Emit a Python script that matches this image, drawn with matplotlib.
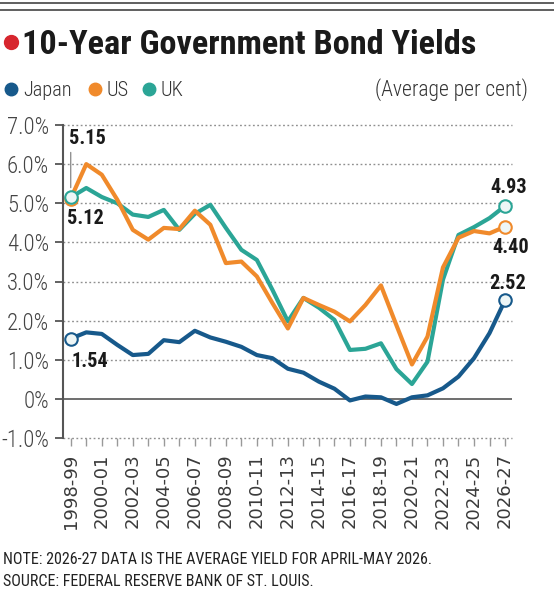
import numpy as np
import matplotlib.pyplot as plt
from matplotlib import font_manager as fm

# pick the narrowest family that is installed
installed = {f.name for f in fm.fontManager.ttflist}
prefs = ['Roboto Condensed', 'Liberation Sans Narrow', 'Roboto', 'Liberation Sans', 'DejaVu Sans']
base = next(n for n in prefs if n in installed or n == 'DejaVu Sans')
plt.rcParams['font.family'] = [base, 'DejaVu Sans']

# fiscal years, one point each
years = ['1998-99', '1999-00', '2000-01', '2001-02', '2002-03', '2003-04', '2004-05',
         '2005-06', '2006-07', '2007-08', '2008-09', '2009-10', '2010-11', '2011-12',
         '2012-13', '2013-14', '2014-15', '2015-16', '2016-17', '2017-18', '2018-19',
         '2019-20', '2020-21', '2021-22', '2022-23', '2023-24', '2024-25', '2025-26',
         '2026-27']

# average 10-year yields (per cent)
japan = [1.54, 1.70, 1.66, 1.38, 1.12, 1.15, 1.50, 1.45, 1.74, 1.57, 1.46, 1.33, 1.12, 1.04,
         0.77, 0.67, 0.44, 0.26, -0.04, 0.06, 0.04, -0.13, 0.04, 0.09, 0.27, 0.57, 1.04,
         1.68, 2.52]
us = [5.12, 6.00, 5.73, 5.09, 4.32, 4.07, 4.37, 4.34, 4.81, 4.45, 3.47, 3.51, 3.13, 2.45,
      1.80, 2.58, 2.40, 2.23, 1.98, 2.40, 2.90, 1.88, 0.88, 1.59, 3.36, 4.12, 4.29, 4.23,
      4.40]
uk = [5.15, 5.39, 5.16, 5.00, 4.71, 4.65, 4.83, 4.32, 4.73, 4.96, 4.37, 3.81, 3.55, 2.79,
      1.98, 2.58, 2.33, 2.02, 1.25, 1.28, 1.42, 0.76, 0.38, 0.95, 3.05, 4.19, 4.39, 4.62,
      4.93]

yticks = [-1, 0, 1, 2, 3, 4, 5, 6, 7]
ylabels = ['-1.0%', '0%', '1.0%', '2.0%', '3.0%', '4.0%', '5.0%', '6.0%', '7.0%']

c_jp = '#17598b'
c_us = '#f08a2b'
c_uk = '#2ba596'
face = '#eef6f6'

W, H = 554, 600
fig = plt.figure(figsize=(W / 100, H / 100), dpi=100)
ax = fig.add_axes([63 / W, 1 - 438 / H, 449 / W, 313 / H])

x = np.arange(len(years))

# grid
for v in yticks:
    if v == 0:
        ax.axhline(v, color='#555555', lw=1.2, zorder=1)
    else:
        ax.axhline(v, color='#8f8f8f', lw=1, ls=(0, (1.3, 1.8)), zorder=1, clip_on=False)

ax.plot(x, japan, color=c_jp, lw=3, zorder=3, solid_joinstyle='round')
ax.plot(x, uk, color=c_uk, lw=3, zorder=3, solid_joinstyle='round')
ax.plot(x, us, color=c_us, lw=3, zorder=4, solid_joinstyle='round')

for s, c in [(japan, c_jp), (us, c_us), (uk, c_uk)]:
    ax.plot([x[0], x[-1]], [s[0], s[-1]], 'o', ms=9, mfc=face, mec=c, mew=1.5,
            zorder=6, clip_on=False)

# value labels at both ends
lab = dict(textcoords='offset pixels', ha='center', va='center', fontsize=16,
           fontweight='bold', color='#1a1a1a')
vals = [
    ax.annotate(f'{uk[0]:.2f}', (x[0], uk[0]), xytext=(17, 59), **lab),
    ax.annotate(f'{us[0]:.2f}', (x[0], us[0]), xytext=(15, -20), **lab),
    ax.annotate(f'{japan[0]:.2f}', (x[0], japan[0]), xytext=(19, -23), **lab),
    ax.annotate(f'{uk[-1]:.2f}', (x[-1], uk[-1]), xytext=(4, 18), **lab),
    ax.annotate(f'{us[-1]:.2f}', (x[-1], us[-1]), xytext=(6, -21), **lab),
    ax.annotate(f'{japan[-1]:.2f}', (x[-1], japan[-1]), xytext=(3, 17), **lab),
]
ax.annotate('', (x[0], uk[0]), xytext=(0, 45), textcoords='offset pixels',
            arrowprops=dict(arrowstyle='-', color='#777777', lw=0.8, shrinkA=0, shrinkB=7))

ax.set_xlim(-0.5, 28.45)
ax.set_ylim(-1, 7)
ax.set_yticks(yticks)
ax.set_yticklabels(ylabels)
ax.set_xticks(x)
ax.set_xticklabels([y if i % 2 == 0 else '' for i, y in enumerate(years)],
                   rotation=90, family='DejaVu Sans', fontsize=13)
ax.tick_params(axis='y', length=6, width=1.3, color='#555555', pad=4,
               labelsize=15, labelcolor='#444444')
ax.tick_params(axis='x', length=6, width=1, color='#999999', pad=5, labelcolor='#3a3a3a')
for t in ax.get_yticklabels():
    t.set_fontweight('light')
for sp in ['top', 'right', 'bottom']:
    ax.spines[sp].set_visible(False)
ax.spines['left'].set_color('#555555')
ax.spines['left'].set_linewidth(1.5)

# header
for yy in [3, 10]:
    fig.add_artist(plt.Line2D([0, 1], [1 - yy / H] * 2, color='#444444', lw=1.2,
                              transform=fig.transFigure))
fig.add_artist(plt.Line2D([11 / W], [1 - 42 / H], marker='o', ms=10, color='#d7262e',
                          transform=fig.transFigure))
title = fig.text(22 / W, 1 - 54 / H, '10-Year Government Bond Yields', fontsize=25,
                 fontweight='bold', color='#1a1a1a', va='baseline')

# legend row
leg = []
for px, name, c in [(11, 'Japan', c_jp), (95, 'US', c_us), (149, 'UK', c_uk)]:
    fig.add_artist(plt.Line2D([px / W], [1 - 89 / H], marker='o', ms=9, color=c,
                              transform=fig.transFigure))
    leg.append(fig.text((px + 12) / W, 1 - 96 / H, name, fontsize=15, color='#333333',
                        va='baseline', fontweight='light'))
avg = fig.text(528 / W, 1 - 96 / H, '(Average per cent)', fontsize=15, color='#333333',
               ha='right', va='baseline', fontweight='light')

note1 = fig.text(3 / W, 1 - 564 / H,
                 'NOTE: 2026-27 DATA IS THE AVERAGE YIELD FOR APRIL-MAY 2026.',
                 fontsize=11.5, color='#222222', va='baseline')
note2 = fig.text(3 / W, 1 - 586 / H, 'SOURCE: FEDERAL RESERVE BANK OF ST. LOUIS.',
                 fontsize=11.5, color='#222222', va='baseline')

# scale font sizes so text widths match the reference
fig.canvas.draw()
r = fig.canvas.get_renderer()


def scale_for(t, width):
    return width / t.get_window_extent(r).width


title.set_fontsize(title.get_fontsize() * scale_for(title, 456))
k = scale_for(leg[0], 49)
for t in leg:
    t.set_fontsize(t.get_fontsize() * k)
avg.set_fontsize(avg.get_fontsize() * scale_for(avg, 153))
k = scale_for(note1, 431)
note1.set_fontsize(note1.get_fontsize() * k)
note2.set_fontsize(note2.get_fontsize() * k)
k = scale_for(vals[0], 37)
for t in vals:
    t.set_fontsize(t.get_fontsize() * k)
k = scale_for(ax.get_yticklabels()[-1], 42)
ax.tick_params(axis='y', labelsize=15 * k)

fig.savefig('out.png', dpi=100)
